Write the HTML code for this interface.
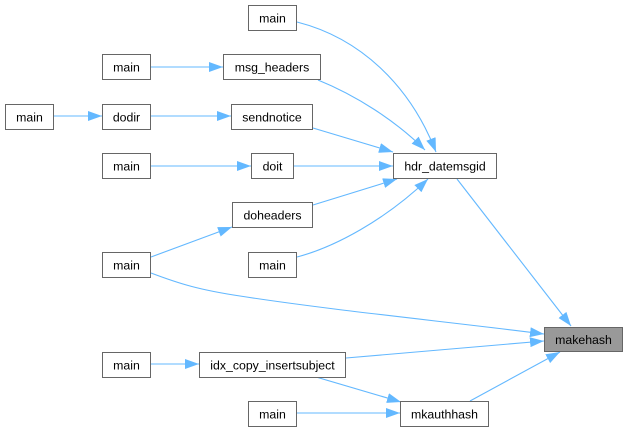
<!DOCTYPE html>
<html>
<head>
<meta charset="utf-8">
<style>
  html, body { margin:0; padding:0; background:#fff; }
  svg { display:block; }
  text { font-family: "Liberation Sans", Arial, sans-serif; font-size:12.3px; fill:#000; }
</style>
</head>
<body>
<svg width="628" height="431" viewBox="0 0 628 431" xmlns="http://www.w3.org/2000/svg">
  <defs>
    <marker id="a" viewBox="0 0 14 10" refX="14" refY="5" markerWidth="14" markerHeight="10" markerUnits="userSpaceOnUse" orient="auto">
      <path d="M0,0 L14,5 L0,10 z" fill="#63b8ff"/>
    </marker>
  </defs>

  <g fill="none" stroke="#63b8ff" stroke-width="1.1" marker-end="url(#a)">
    <path d="M297,22 C360,38 410,85 436,152"/>
    <path d="M318,80 C355,95 395,120 425,150"/>
    <path d="M313,128 L393,152"/>
    <path d="M293,166 L393,166"/>
    <path d="M313,205 L397,179"/>
    <path d="M297,257 C335,247 385,220 428,179"/>
    <path d="M151,67 L223,67"/>
    <path d="M54,116 L102,116"/>
    <path d="M151,116 L231,116"/>
    <path d="M151,166 L251,166"/>
    <path d="M151,257 L232,227"/>
    <path d="M151,273 C180,284 200,290 240,296 C330,310 450,322 544,334"/>
    <path d="M457,179 L571,326"/>
    <path d="M346,358 L544,341"/>
    <path d="M470,401 L560,352"/>
    <path d="M151,364 L199,364"/>
    <path d="M316,377 L401,402"/>
    <path d="M296,413 L400,413"/>
  </g>

  <g stroke="#666" stroke-width="1" fill="#fff">
    <rect x="248.5" y="5.5" width="48" height="25"/>
    <rect x="102.5" y="54.5" width="48" height="25"/>
    <rect x="223.5" y="54.5" width="97" height="25"/>
    <rect x="5.5" y="104.5" width="48" height="25"/>
    <rect x="102.5" y="104.5" width="48" height="25"/>
    <rect x="231.5" y="104.5" width="81" height="25"/>
    <rect x="102.5" y="153.5" width="48" height="25"/>
    <rect x="251.5" y="153.5" width="42" height="25"/>
    <rect x="393.5" y="153.5" width="103" height="25"/>
    <rect x="232.5" y="202.5" width="80" height="25"/>
    <rect x="102.5" y="252.5" width="48" height="25"/>
    <rect x="248.5" y="252.5" width="48" height="25"/>
    <rect x="544.5" y="327.5" width="78" height="24" fill="#999"/>
    <rect x="102.5" y="352.5" width="48" height="25"/>
    <rect x="199.5" y="352.5" width="146" height="25"/>
    <rect x="248.5" y="401.5" width="48" height="25"/>
    <rect x="400.5" y="401.5" width="88" height="25"/>
  </g>

  <g text-anchor="middle">
    <text x="272.5" y="22.5">main</text>
    <text x="126.5" y="71.5">main</text>
    <text x="272" y="71.5">msg_headers</text>
    <text x="29.5" y="121.5">main</text>
    <text x="126.5" y="121.5">dodir</text>
    <text x="272" y="121.5">sendnotice</text>
    <text x="126.5" y="170.5">main</text>
    <text x="272.5" y="170.5">doit</text>
    <text x="445" y="170.5">hdr_datemsgid</text>
    <text x="272.5" y="219.5">doheaders</text>
    <text x="126.5" y="269.5">main</text>
    <text x="272.5" y="269.5">main</text>
    <text x="583.5" y="344">makehash</text>
    <text x="126.5" y="369.5">main</text>
    <text x="272.5" y="369.5">idx_copy_insertsubject</text>
    <text x="272.5" y="418.5">main</text>
    <text x="444.5" y="418.5">mkauthhash</text>
  </g>
</svg>
</body>
</html>
